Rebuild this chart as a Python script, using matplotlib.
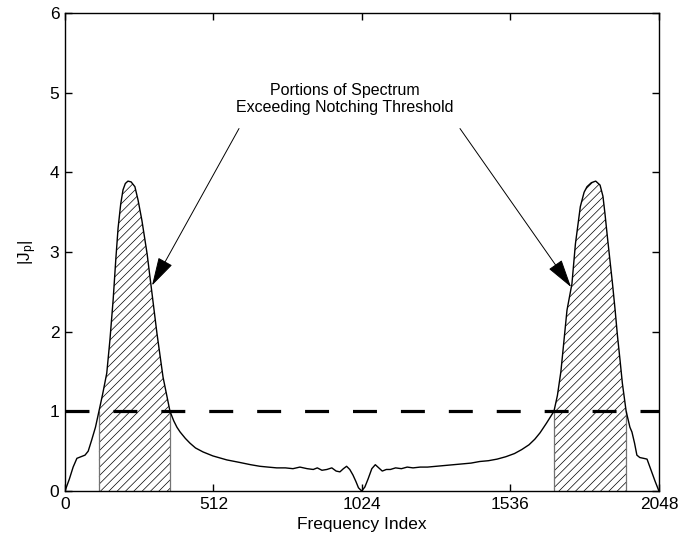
import matplotlib
matplotlib.use('Agg')
import matplotlib.pyplot as plt
import numpy as np

plt.rcParams['font.family'] = ['Liberation Sans', 'DejaVu Sans']
plt.rcParams['mathtext.fontset'] = 'custom'
plt.rcParams['mathtext.rm'] = 'Liberation Sans'
plt.rcParams['mathtext.it'] = 'Liberation Sans'
plt.rcParams['mathtext.default'] = 'regular'
plt.rcParams['hatch.linewidth'] = 0.5

# spectrum magnitude
freq = [0, 15, 28, 41, 55, 69, 80, 92, 105, 117, 130, 144, 155, 166, 175, 183,
        192, 200, 208, 217, 228, 241, 252, 265, 283, 300, 317, 338, 362, 375,
        386, 397, 415, 431, 450, 476, 510, 558, 600, 640, 672, 700, 730, 760,
        786, 810, 835, 856, 870, 886, 903, 920, 935, 948, 960, 971, 982, 993,
        1003, 1012, 1023,
        1034, 1045, 1058, 1070, 1082, 1094, 1108, 1122, 1140, 1160, 1180, 1200,
        1225, 1250, 1280, 1310, 1340, 1370, 1400, 1430, 1460, 1490, 1520, 1550,
        1575, 1600, 1620, 1638, 1660, 1686, 1698, 1710, 1731, 1748, 1760, 1777,
        1790, 1800, 1815, 1830, 1845, 1855, 1862, 1870, 1879, 1888, 1897, 1905,
        1914, 1922, 1935, 1948, 1955, 1964, 1972, 1982, 1995, 2007, 2017, 2024,
        2035, 2048]
mag = [0.0, 0.15, 0.3, 0.41, 0.43, 0.45, 0.5, 0.64, 0.8, 1.0, 1.22, 1.48, 1.9,
       2.4, 2.9, 3.3, 3.6, 3.78, 3.86, 3.89, 3.88, 3.82, 3.65, 3.4, 2.98, 2.48,
       1.98, 1.43, 1.0, 0.88, 0.8, 0.74, 0.66, 0.6, 0.54, 0.49, 0.44, 0.39,
       0.36, 0.33, 0.31, 0.3, 0.29, 0.29, 0.28, 0.3, 0.28, 0.27, 0.29, 0.26,
       0.27, 0.29, 0.25, 0.24, 0.28, 0.31, 0.27, 0.2, 0.12, 0.04, 0.0,
       0.05, 0.15, 0.28, 0.33, 0.29, 0.25, 0.27, 0.27, 0.29, 0.28, 0.3, 0.29,
       0.3, 0.3, 0.31, 0.32, 0.33, 0.34, 0.35, 0.37, 0.38, 0.4, 0.43, 0.47,
       0.52, 0.58, 0.65, 0.73, 0.85, 1.0, 1.2, 1.5, 2.27, 2.6, 3.1, 3.57,
       3.75, 3.82, 3.87, 3.89, 3.84, 3.7, 3.48, 3.2, 2.9, 2.6, 2.27, 1.95,
       1.64, 1.35, 1.0, 0.8, 0.74, 0.6, 0.45, 0.42, 0.41, 0.4, 0.3, 0.23,
       0.12, 0.0]

threshold = 1.0
notch_bands = [(117, 362), (1686, 1935)]
xticks = [0, 512, 1024, 1536, 2048]
yticks = [0, 1, 2, 3, 4, 5, 6]
note = 'Portions of Spectrum\nExceeding Notching Threshold'

freq = np.array(freq, dtype=float)
mag = np.array(mag)

fig = plt.figure(figsize=(6.8, 5.43), dpi=100)
ax = fig.add_axes([0.0956, 0.0958, 0.8734, 0.8802])

for lo, hi in notch_bands:
    xs = np.linspace(lo, hi, 200)
    ys = np.interp(xs, freq, mag)
    ax.fill_between(xs, 0, ys, facecolor='white', edgecolor='k',
                    hatch='////', linewidth=0)
    ax.vlines([lo, hi], 0, [ys[0], ys[-1]], color='0.45', linewidth=0.9)

ax.plot(freq, mag, color='k', linewidth=1.0)
ax.axhline(threshold, color='k', linewidth=2.3, dashes=(7.5, 7.5))

ax.set_xlim(0, 2048)
ax.set_ylim(0, 6)
ax.set_xticks(xticks)
ax.set_yticks(yticks)
ax.tick_params(direction='in', length=5, width=1, labelsize=12.5,
               top=True, right=True, pad=4)
for s in ax.spines.values():
    s.set_linewidth(1.0)

ax.set_xlabel('Frequency Index', fontsize=12.5, labelpad=4)
ax.set_ylabel('$|J_p|$', fontsize=12.5, labelpad=8)

ax.text(966, 4.92, note, ha='center', va='center', fontsize=11.5,
        linespacing=1.1)
arrow = dict(arrowstyle='-|>,head_length=0.9,head_width=0.25',
             color='k', linewidth=0.7, shrinkA=0, shrinkB=0,
             mutation_scale=20)
ax.annotate('', xy=(300, 2.58), xytext=(600, 4.55), arrowprops=arrow)
ax.annotate('', xy=(1745, 2.56), xytext=(1362, 4.55), arrowprops=arrow)

fig.savefig('out.png', dpi=100)
